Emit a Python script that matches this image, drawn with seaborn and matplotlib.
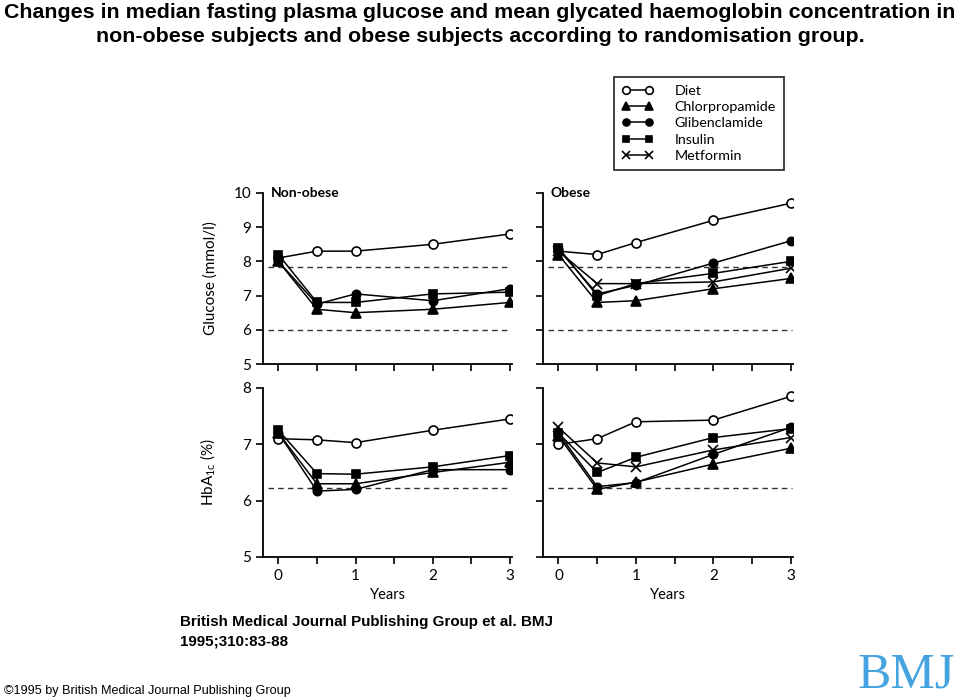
import matplotlib
matplotlib.use("Agg")
import matplotlib.pyplot as plt
import seaborn as sns
import pandas as pd
from matplotlib.lines import Line2D

# ---------------- data ----------------
years = [0, 0.5, 1, 2, 3]
groups = ["Diet", "Chlorpropamide", "Glibenclamide", "Insulin", "Metformin"]

glucose_nonobese = {
    "Diet": [8.1, 8.3, 8.3, 8.5, 8.8],
    "Chlorpropamide": [8.0, 6.6, 6.5, 6.6, 6.8],
    "Glibenclamide": [8.0, 6.75, 7.05, 6.85, 7.2],
    "Insulin": [8.2, 6.8, 6.8, 7.05, 7.1],
}
glucose_obese = {
    "Diet": [8.3, 8.2, 8.55, 9.2, 9.7],
    "Chlorpropamide": [8.2, 6.8, 6.85, 7.2, 7.5],
    "Glibenclamide": [8.35, 7.05, 7.3, 7.95, 8.6],
    "Insulin": [8.4, 7.0, 7.35, 7.65, 8.0],
    "Metformin": [8.3, 7.35, 7.35, 7.4, 7.8],
}
hba1c_nonobese = {
    "Diet": [7.1, 7.08, 7.03, 7.25, 7.45],
    "Chlorpropamide": [7.2, 6.3, 6.3, 6.5, 6.68],
    "Glibenclamide": [7.2, 6.17, 6.2, 6.55, 6.55],
    "Insulin": [7.25, 6.48, 6.47, 6.6, 6.8],
}
hba1c_obese = {
    "Diet": [7.0, 7.1, 7.4, 7.43, 7.85],
    "Chlorpropamide": [7.15, 6.2, 6.33, 6.65, 6.93],
    "Glibenclamide": [7.2, 6.25, 6.32, 6.82, 7.3],
    "Insulin": [7.2, 6.5, 6.77, 7.12, 7.28],
    "Metformin": [7.3, 6.67, 6.6, 6.9, 7.12],
}
glucose_refs = [7.85, 6.0]
hba1c_refs = [6.23]
glucose_ticks = [5, 6, 7, 8, 9, 10]
hba1c_ticks = [5, 6, 7, 8]
year_ticks = [0, 1, 2, 3]
year_minor = [0.5, 1.5, 2.5]

# ---------------- style ----------------
sns.set_style("ticks")
plt.rcParams["font.family"] = ["Lato", "DejaVu Sans"]
plt.rcParams["text.color"] = "black"
plt.rcParams["axes.labelcolor"] = "black"
plt.rcParams["xtick.color"] = "black"
plt.rcParams["ytick.color"] = "black"

markers = {"Diet": "o", "Chlorpropamide": "^", "Glibenclamide": "o",
           "Insulin": "s", "Metformin": "x"}
faces = {"Diet": "white", "Chlorpropamide": "black", "Glibenclamide": "black",
         "Insulin": "black", "Metformin": "black"}
msize = {"Diet": 6.5, "Chlorpropamide": 6.5, "Glibenclamide": 6,
         "Insulin": 5.5, "Metformin": 6.5}

W, H = 960, 699
fig = plt.figure(figsize=(W / 100, H / 100), dpi=100)
fig.patch.set_facecolor("white")


def px_axes(x0, x1, ytop, ybot):
    return fig.add_axes([x0 / W, 1 - ybot / H, (x1 - x0) / W, (ybot - ytop) / H])


ax_gn = px_axes(263, 512, 193, 364)
ax_go = px_axes(543, 793, 193, 364)
ax_hn = px_axes(263, 512, 388, 557)
ax_ho = px_axes(543, 793, 388, 557)

panels = [
    (ax_gn, glucose_nonobese, glucose_refs, glucose_ticks, (5, 10), True, False),
    (ax_go, glucose_obese, glucose_refs, glucose_ticks, (5, 10), False, False),
    (ax_hn, hba1c_nonobese, hba1c_refs, hba1c_ticks, (5, 8), True, True),
    (ax_ho, hba1c_obese, hba1c_refs, hba1c_ticks, (5, 8), False, True),
]

for ax, data, refs, yt, ylim, ylab, xlab in panels:
    ax.set_facecolor("white")
    for r in refs:
        ax.axhline(r, xmin=0.02, xmax=0.995, color="#333333", lw=1.0,
                   ls=(0, (4, 3)), zorder=1)
    for g in groups:
        if g not in data:
            continue
        df = pd.DataFrame({"year": years, "value": data[g]})
        sns.lineplot(data=df, x="year", y="value", ax=ax, color="black",
                     lw=1.1, marker=markers[g], markersize=msize[g],
                     markerfacecolor=faces[g], markeredgecolor="black",
                     markeredgewidth=1.2, legend=False, zorder=3)
    ax.set_xlim(-0.2, 3.03)
    ax.set_ylim(*ylim)
    ax.set_yticks(yt)
    ax.set_xticks(year_ticks)
    ax.set_xticks(year_minor, minor=True)
    for s in ["top", "right"]:
        ax.spines[s].set_visible(False)
    for s in ["left", "bottom"]:
        ax.spines[s].set_linewidth(1.3)
        ax.spines[s].set_color("black")
    ax.tick_params(axis="both", which="both", direction="out", length=5,
                   width=1.2, colors="black", labelsize=11)
    ax.tick_params(axis="x", which="minor", length=5)
    if not ylab:
        ax.set_yticklabels([])
    if not xlab:
        ax.set_xticklabels([])
    ax.set_xlabel("Years" if xlab else "", fontsize=10.5, labelpad=4)
    ax.set_ylabel("")

ax_gn.set_ylabel("Glucose (mmol/l)", fontsize=11)
ax_gn.yaxis.set_label_coords(-0.18, 0.5)
ax_hn.set_ylabel(r"HbA$_{\mathregular{1c}}$ (%)", fontsize=11)
ax_hn.yaxis.set_label_coords(-0.18, 0.5)

ax_gn.text(0.03, 1.0, "Non-obese", transform=ax_gn.transAxes, ha="left",
           va="center", fontsize=10, fontweight="bold")
ax_go.text(0.03, 1.0, "Obese", transform=ax_go.transAxes, ha="left",
           va="center", fontsize=10, fontweight="bold")

# legend
handles = [Line2D([0], [0], color="black", lw=1.1, marker=markers[g],
                  markersize=msize[g] - 1, markerfacecolor=faces[g],
                  markeredgecolor="black", markeredgewidth=1.2)
           for g in groups]
leg = fig.legend(handles, groups, loc="upper left",
                 bbox_to_anchor=(614 / W, 1 - 77 / H), frameon=True,
                 fancybox=False, numpoints=2, handlelength=2.2,
                 handletextpad=1.5, labelspacing=0.3, fontsize=10.3,
                 borderpad=0.55, borderaxespad=0)
leg.get_frame().set_edgecolor("black")
leg.get_frame().set_linewidth(1.3)

# titles and captions
tfont = ["Liberation Sans", "DejaVu Sans"]
fig.text(0.5, 1 - 12 / H,
         "Changes in median fasting plasma glucose and mean glycated haemoglobin concentration in",
         ha="center", va="center", fontsize=15.4, fontweight="bold", family=tfont,
         color="black")
fig.text(0.5, 1 - 36 / H,
         "non-obese subjects and obese subjects according to randomisation group.",
         ha="center", va="center", fontsize=15.4, fontweight="bold", family=tfont,
         color="black")
fig.text(180 / W, 1 - 622 / H,
         "British Medical Journal Publishing Group et al. BMJ",
         ha="left", va="center", fontsize=10.9, fontweight="bold", family=tfont,
         color="black")
fig.text(180 / W, 1 - 641 / H, "1995;310:83-88",
         ha="left", va="center", fontsize=10.9, fontweight="bold", family=tfont,
         color="black")
fig.text(4 / W, 1 - 691 / H,
         "\u00a91995 by British Medical Journal Publishing Group",
         ha="left", va="center", fontsize=9.1, family=tfont, color="black")
fig.text(955 / W, 1 - 687 / H, "BMJ", ha="right", va="baseline",
         fontsize=36, color="#45a3e0",
         family=["Liberation Serif", "DejaVu Serif"])

fig.savefig("out.png", dpi=100, facecolor="white")
